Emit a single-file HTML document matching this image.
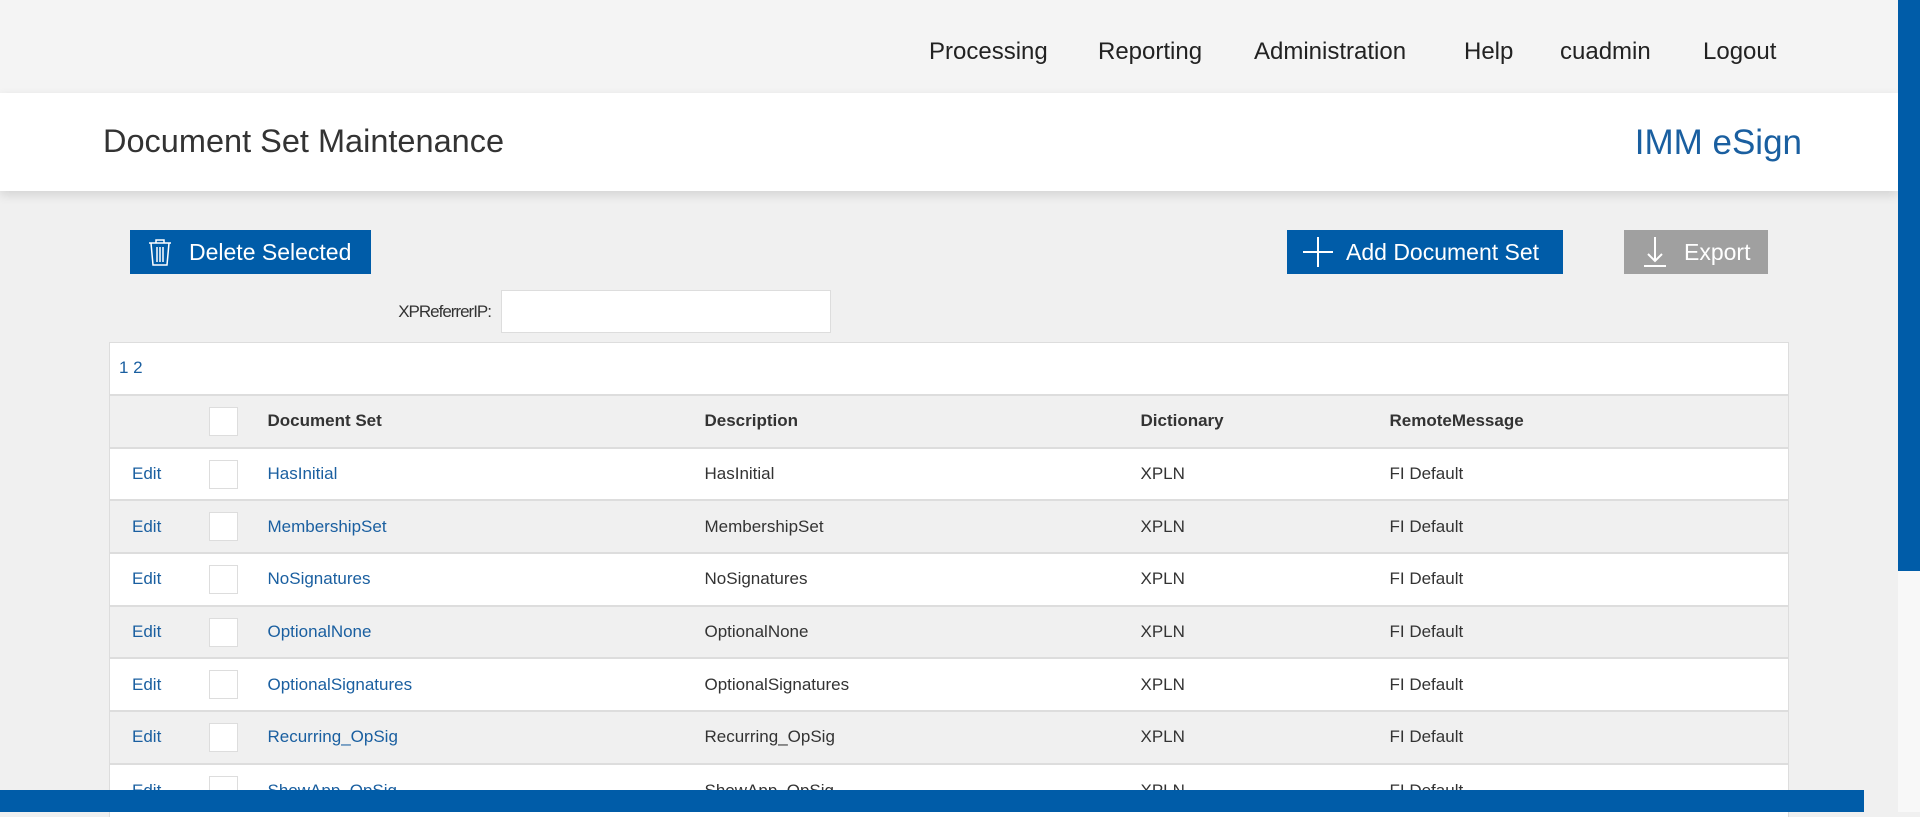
<!DOCTYPE html>
<html><head><meta charset="utf-8"><style>
*{box-sizing:border-box;margin:0;padding:0}
body{width:1920px;height:812px;overflow:hidden;background:#f0f0f0;font-family:"Liberation Sans",sans-serif;position:relative}
.nav{position:absolute;left:0;top:0;width:1898px;height:93px;background:#f4f4f4}
.nav span{position:absolute;top:38px;font-size:24px;color:#222;font-weight:300}
.hdr{position:absolute;left:0;top:93px;width:1898px;height:98px;background:#fff;box-shadow:0 4px 10px rgba(0,0,0,0.12)}
.title{position:absolute;left:103px;top:30px;font-size:32.5px;color:#333;font-weight:300}
.brand{position:absolute;right:96px;top:30px;font-size:35px;color:#1a5fa0;font-weight:300}
.btn{position:absolute;top:230px;height:44px;background:#005ca8;color:#fff;font-size:23px;line-height:44px}
.track{position:absolute;left:1898px;top:0;width:22px;height:812px;background:#f8f8f8}
.sb{position:absolute;left:1898px;top:0;width:22px;height:571px;background:#005ca8}
.bot{position:absolute;left:0;top:790px;width:1864px;height:22px;background:#005ca8}
table{position:absolute;left:109px;top:394px;width:1680px;border-collapse:collapse;font-size:17px;color:#333;border-left:1px solid #ddd;border-right:1px solid #ddd}
td,th{height:52.7px;border-top:2px solid #ddd;vertical-align:middle;padding:0}
tr.w td{background:#fff}tr.g td,tr.g th{background:#f0f0f0}
.cb{display:inline-block;width:29px;height:29px;background:#fff;border:1px solid #ddd;vertical-align:middle}
a{color:#1a5fa0;text-decoration:none}
th{font-weight:bold}
</style></head><body>
<div class="nav">
<span style="left:929px">Processing</span><span style="left:1098px">Reporting</span><span style="left:1254px">Administration</span><span style="left:1464px">Help</span><span style="left:1560px">cuadmin</span><span style="left:1703px">Logout</span>
</div>
<div class="hdr"><div class="title">Document Set Maintenance</div><div class="brand">IMM eSign</div></div>
<div class="btn" style="left:130px;width:241px"><svg style="position:absolute;left:17px;top:8px" width="26" height="28" viewBox="0 0 26 28"><g fill="none" stroke="#fff" stroke-width="1.5"><path d="M2 5h22M9 5V2h8v3M4 5l2 22h14l2-22M10 9v15M13 9v15M16 9v15"/></g></svg><span style="position:absolute;left:59px">Delete Selected</span></div>
<div class="btn" style="left:1287px;width:276px"><svg style="position:absolute;left:16px;top:7px" width="30" height="30"><path d="M15 0v30M0 15h30" stroke="#fff" stroke-width="2"/></svg><span style="position:absolute;left:59px">Add Document Set</span></div>
<div class="btn" style="left:1624px;width:144px;background:#a0a0a0"><svg style="position:absolute;left:18px;top:7px" width="26" height="30"><path d="M13 0v24M6 17l7 7 7-7M2 29h22" stroke="#fff" stroke-width="2" fill="none"/></svg><span style="position:absolute;left:60px">Export</span></div>
<div style="position:absolute;left:370px;top:302px;width:121px;text-align:right;font-size:17px;color:#333;letter-spacing:-1px">XPReferrerIP:</div>
<div style="position:absolute;left:501px;top:290px;width:330px;height:43px;background:#fff;border:1px solid #ddd"></div>
<div style="position:absolute;left:109px;top:342px;width:1680px;height:53px;background:#fff;border:1px solid #ddd;border-bottom:none"><span style="position:absolute;left:9px;top:15px;font-size:17px;color:#1a5fa0">1 2</span></div>
<table>
<tr class="g"><td style="width:99px"></td><td style="width:59px"><span class="cb"></span></td><th style="text-align:left;width:437px">Document Set</th><th style="text-align:left;width:436px">Description</th><th style="text-align:left;width:249px">Dictionary</th><th style="text-align:left">RemoteMessage</th></tr>
<tr class="w"><td style="padding-left:22px"><a>Edit</a></td><td><span class="cb"></span></td><td><a>HasInitial</a></td><td>HasInitial</td><td>XPLN</td><td>FI Default</td></tr>
<tr class="g"><td style="padding-left:22px"><a>Edit</a></td><td><span class="cb"></span></td><td><a>MembershipSet</a></td><td>MembershipSet</td><td>XPLN</td><td>FI Default</td></tr>
<tr class="w"><td style="padding-left:22px"><a>Edit</a></td><td><span class="cb"></span></td><td><a>NoSignatures</a></td><td>NoSignatures</td><td>XPLN</td><td>FI Default</td></tr>
<tr class="g"><td style="padding-left:22px"><a>Edit</a></td><td><span class="cb"></span></td><td><a>OptionalNone</a></td><td>OptionalNone</td><td>XPLN</td><td>FI Default</td></tr>
<tr class="w"><td style="padding-left:22px"><a>Edit</a></td><td><span class="cb"></span></td><td><a>OptionalSignatures</a></td><td>OptionalSignatures</td><td>XPLN</td><td>FI Default</td></tr>
<tr class="g"><td style="padding-left:22px"><a>Edit</a></td><td><span class="cb"></span></td><td><a>Recurring_OpSig</a></td><td>Recurring_OpSig</td><td>XPLN</td><td>FI Default</td></tr>
<tr class="w"><td style="padding-left:22px"><a>Edit</a></td><td><span class="cb"></span></td><td><a>ShowApp_OpSig</a></td><td>ShowApp_OpSig</td><td>XPLN</td><td>FI Default</td></tr>
</table>
<div class="track"></div>
<div class="sb"></div>
<div class="bot"></div>
</body></html>
